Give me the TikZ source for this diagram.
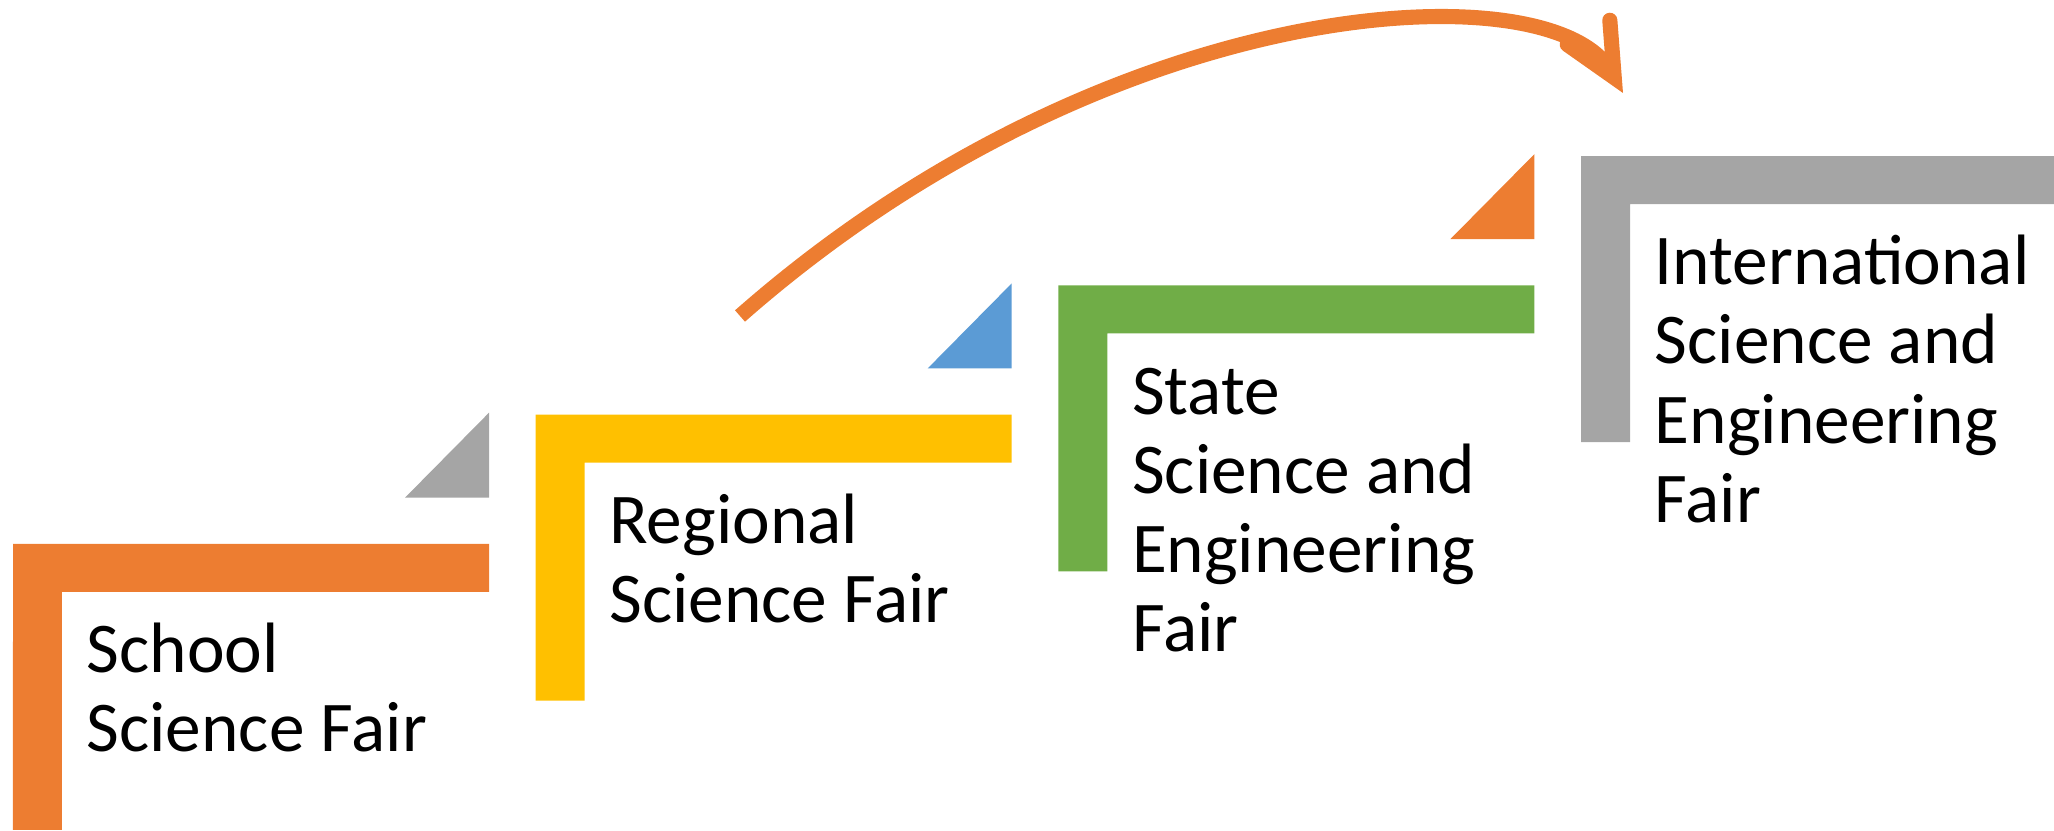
\documentclass[tikz,border=0pt]{standalone}
\usepackage{fontspec}
\setmainfont{Carlito}
\usepackage{tikz}
\usetikzlibrary{arrows.meta}

\definecolor{fairorange}{HTML}{ED7D31}
\definecolor{fairyellow}{HTML}{FFC000}
\definecolor{fairgreen}{HTML}{70AD47}
\definecolor{fairgray}{HTML}{A5A5A5}
\definecolor{fairblue}{HTML}{5B9BD5}

\begin{document}
\begin{tikzpicture}[
	fairlabel/.style={anchor=base west, align=left, inner sep=0pt,
		font=\fontsize{20.3pt}{22.5pt}\selectfont},
	jump/.style={draw=fairorange, line width=4.3pt,
		-{Straight Barb[length=5.2mm, width=4.9mm, line cap=round, line join=miter]}}]
			\useasboundingbox (0,0) rectangle (20.54,8.31);

			% the four steps
			\foreach \x/\y/\c in {0.13/2.87/fairorange, 5.357/4.163/fairyellow,
				10.584/5.456/fairgreen, 15.811/6.749/fairgray}
				\fill[\c] (\x,\y) -- ++(4.76,0) -- ++(0,-0.48) -- ++(-4.27,0)
					-- ++(0,-2.38) -- ++(-0.49,0) -- cycle;

			% small corner triangles
			\foreach \x/\y/\c in {4.89/4.183/fairgray, 10.117/5.476/fairblue, 15.344/6.769/fairorange}
				\fill[\c] (\x,\y) -- ++(0,-0.85) -- ++(-0.84,0) -- cycle;

			% labels (base = last line)
			\node[fairlabel] (school) at (0.86,0.79) {School\\Science Fair};
			\node[fairlabel] (regional) at (6.087,2.083) {Regional\\Science Fair};
			\node[fairlabel] (state) at (11.314,1.796) {State\\Science and\\Engineering\\Fair};
			\node[fairlabel] (intl) at (16.541,3.089) {International\\Science and\\Engineering\\Fair};

			\coordinate (jumpstart) at (7.40,5.15);
			\coordinate (jumpend) at (16.23,7.38);
			\draw[jump] (jumpstart) .. controls (11.115,8.42) and (15.525,8.62) .. (jumpend);
\end{tikzpicture}
\end{document}
